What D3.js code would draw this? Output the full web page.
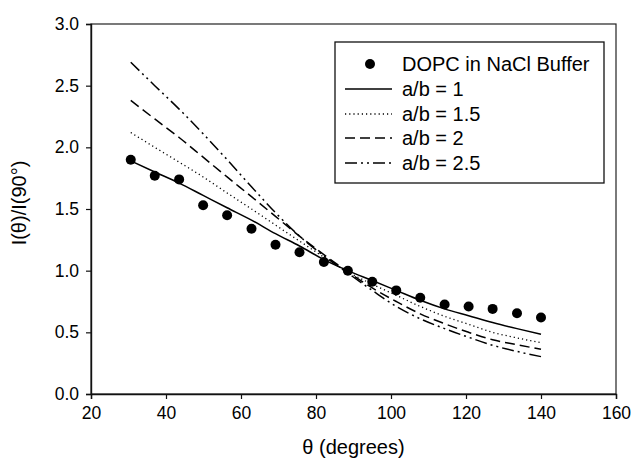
<!DOCTYPE html>
<html><head><meta charset="utf-8">
<script src="https://cdn.jsdelivr.net/npm/d3@7"></script>
<style>body{margin:0;background:#fff}svg{display:block}text{font-family:"Liberation Sans",Arial,sans-serif;fill:#000}</style>
</head><body><svg id="c" width="634" height="473"></svg>
<script>
const theta = [30.6, 37.0, 43.5, 49.9, 56.3, 62.8, 69.2, 75.6, 82.1, 88.5, 95.0, 101.4, 107.8, 114.3, 120.7, 127.1, 133.6, 140.0];
const dopc = [1.90, 1.77, 1.74, 1.53, 1.45, 1.34, 1.21, 1.15, 1.07, 1.00, 0.91, 0.84, 0.78, 0.725, 0.71, 0.69, 0.655, 0.62];
const ab1   = [1.89, 1.80, 1.71, 1.61, 1.51, 1.41, 1.30, 1.20, 1.09, 1.00, 0.92, 0.84, 0.76, 0.69, 0.635, 0.58, 0.53, 0.484];
const ab15  = [2.12, 2.00, 1.88, 1.76, 1.63, 1.50, 1.37, 1.24, 1.11, 0.99, 0.89, 0.80, 0.71, 0.63, 0.565, 0.50, 0.455, 0.416];
const ab2   = [2.38, 2.23, 2.08, 1.92, 1.76, 1.60, 1.44, 1.28, 1.13, 0.99, 0.86, 0.75, 0.65, 0.57, 0.50, 0.44, 0.40, 0.362];
const ab25  = [2.69, 2.50, 2.31, 2.11, 1.90, 1.68, 1.47, 1.28, 1.12, 0.98, 0.84, 0.71, 0.61, 0.53, 0.46, 0.395, 0.345, 0.303];
const xTicks = [20, 40, 60, 80, 100, 120, 140, 160];
const yTicks = [0, 0.5, 1.0, 1.5, 2.0, 2.5, 3.0];
const seriesNames = ["a/b = 1", "a/b = 1.5", "a/b = 2", "a/b = 2.5"];
const pointName = "DOPC in NaCl Buffer";
const dashes = [null, "1.2,3", "10,5", "12,4,2,4,2,4"];

const svg = d3.select("#c");
const m = {l: 91, r: 18, t: 24, b: 79};
const W = 634, H = 473;
const x = d3.scaleLinear().domain([20, 160]).range([m.l, W - m.r]);
const y = d3.scaleLinear().domain([0, 3]).range([H - m.b, m.t]);

// frame
svg.append("rect").attr("x", x(20)).attr("y", y(3)).attr("width", x(160) - x(20)).attr("height", y(0) - y(3))
  .attr("fill", "none").attr("stroke", "#222").attr("stroke-width", 1.2);

const xa = svg.append("g").attr("transform", `translate(0,${y(0)})`)
  .call(d3.axisBottom(x).tickValues(xTicks).tickSize(5).tickPadding(8).tickFormat(d3.format("d")));
const ya = svg.append("g").attr("transform", `translate(${x(20)},0)`)
  .call(d3.axisLeft(y).tickValues(yTicks).tickSize(5).tickPadding(7).tickFormat(d3.format(".1f")));
[xa, ya].forEach(g => {
  g.select(".domain").attr("stroke", "#111").attr("stroke-width", 1.4);
  g.selectAll(".tick line").attr("stroke", "#111").attr("stroke-width", 1.2);
  g.selectAll(".tick text").attr("font-size", 17.5).attr("font-family", "Liberation Sans, Arial, sans-serif").attr("fill", "#000");
});

const line = d3.line().x((d, i) => x(theta[i])).y(d => y(d)).curve(d3.curveMonotoneX);
[ab1, ab15, ab2, ab25].forEach((s, k) => {
  svg.append("path").datum(s).attr("d", line).attr("fill", "none").attr("stroke", "#000")
    .attr("stroke-width", k === 1 ? 1.3 : 1.5).attr("stroke-dasharray", dashes[k]);
});

svg.append("g").selectAll("circle").data(dopc).join("circle")
  .attr("cx", (d, i) => x(theta[i])).attr("cy", d => y(d)).attr("r", 5).attr("fill", "#000");

// legend
const lg = svg.append("g");
lg.append("rect").attr("x", 335).attr("y", 42).attr("width", 269).attr("height", 141)
  .attr("fill", "#fff").attr("stroke", "#111").attr("stroke-width", 1.3);
const rows = [64, 89, 114, 138, 163];
lg.append("circle").attr("cx", 370).attr("cy", rows[0]).attr("r", 5).attr("fill", "#000");
lg.append("text").attr("x", 402).attr("y", rows[0]).attr("dy", "0.36em").attr("font-size", 20).text(pointName);
seriesNames.forEach((n, k) => {
  lg.append("line").attr("x1", 345).attr("x2", 392).attr("y1", rows[k + 1]).attr("y2", rows[k + 1])
    .attr("stroke", "#000").attr("stroke-width", k === 1 ? 1.3 : 1.5).attr("stroke-dasharray", dashes[k]);
  lg.append("text").attr("x", 402).attr("y", rows[k + 1]).attr("dy", "0.36em").attr("font-size", 20).text(n);
});

// axis titles
svg.append("text").attr("x", (x(20) + x(160)) / 2).attr("y", 454).attr("text-anchor", "middle")
  .attr("font-size", 20).text("θ (degrees)");
svg.append("text").attr("transform", `translate(26,${(y(0) + y(3)) / 2 - 6}) rotate(-90)`).attr("text-anchor", "middle")
  .attr("font-size", 20).text("I(θ)/I(90°)");
</script></body></html>
